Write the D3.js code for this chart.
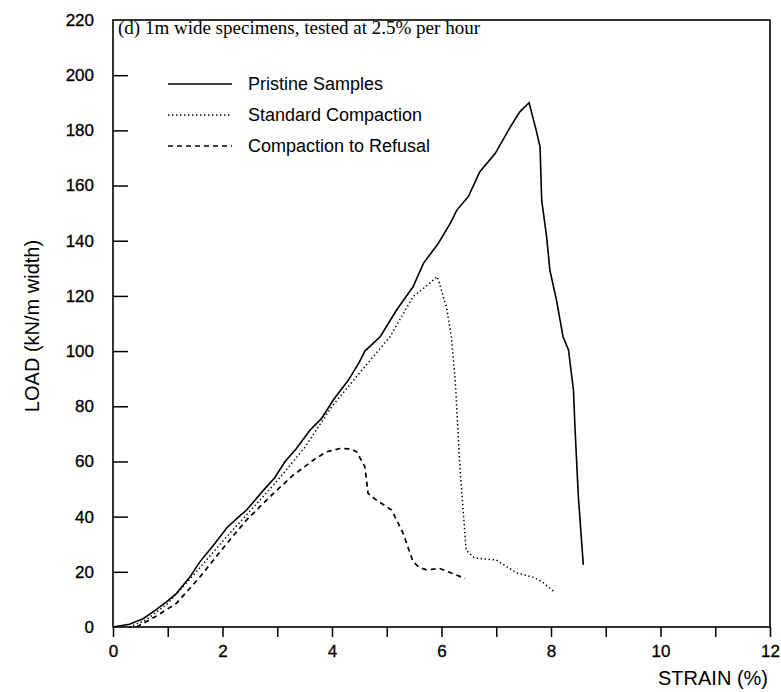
<!DOCTYPE html>
<html>
<head>
<meta charset="utf-8">
<script src="https://cdn.jsdelivr.net/npm/d3@7"></script>
<style>
  body { margin: 0; background: #fff; }
  svg { display: block; }
  .tick text { font-family: "Liberation Sans", Arial, sans-serif; font-size: 17px; fill: #000; stroke: #000; stroke-width: 0.3px; }
</style>
</head>
<body>
<div id="chart"></div>
<script>
// strain (%) and load (kN/m width)
const strainPristine = [0, 0.3, 0.55, 0.77, 1.0, 1.16, 1.4, 1.59, 1.85, 2.08, 2.3, 2.44, 2.75, 2.95, 3.14, 3.35, 3.6, 3.81, 4.02, 4.3, 4.5, 4.6, 4.88, 5.18, 5.48, 5.67, 5.94, 6.16, 6.28, 6.49, 6.7, 6.98, 7.25, 7.43, 7.6, 7.73, 7.8, 7.83, 7.92, 7.98, 8.1, 8.22, 8.32, 8.41, 8.44, 8.5, 8.59]
const loadPristine = [0, 1, 3, 6, 9.5, 12.2, 18, 23.7, 30, 36, 40, 42.4, 49.6, 54, 59.9, 64.7, 71.4, 75.6, 82.2, 89.5, 96, 100, 105.2, 114.9, 123.3, 131.8, 139, 146.3, 151.1, 156, 165, 171.6, 181, 186.7, 190, 180, 174, 154.7, 141.4, 129.3, 118.5, 105.2, 100.4, 85.9, 71.4, 47.2, 22.5]

const strainStandard = [0.3, 0.6, 1.0, 1.5, 2.0, 2.5, 3.0, 3.5, 4.0, 4.5, 5.06, 5.48, 5.75, 5.92, 5.97, 6.09, 6.18, 6.25, 6.34, 6.45, 6.6, 7.0, 7.37, 7.68, 7.84, 8.04]
const loadStandard = [0, 2.5, 8.5, 19.5, 31, 42, 53, 65, 80, 92, 105.2, 119.7, 124, 127, 124, 116, 105.2, 89.5, 56.9, 27.9, 25, 24.3, 19.6, 18, 16.4, 13]

const strainRefusal = [0.43, 0.77, 1.16, 1.59, 2.08, 2.44, 2.93, 3.29, 3.66, 3.9, 4.15, 4.35, 4.45, 4.6, 4.66, 4.81, 5.09, 5.3, 5.48, 5.6, 5.73, 5.97, 6.43]
const loadRefusal = [0, 3.7, 8.6, 18.2, 30.3, 38.8, 48.4, 55, 60.5, 63.5, 64.7, 64.5, 63.5, 58.1, 48.4, 46, 42.4, 33.9, 23.7, 21.5, 20.7, 21.2, 17.6]

const seriesNames = ['Pristine Samples', 'Standard Compaction', 'Compaction to Refusal']
const xTicks = [0, 2, 4, 6, 8, 10, 12]
const yTicks = [0, 20, 40, 60, 80, 100, 120, 140, 160, 180, 200, 220]

const width = 781
const height = 692
const margin = { top: 20, right: 11, bottom: 65, left: 113 }
const innerW = width - margin.left - margin.right
const innerH = height - margin.top - margin.bottom

const sans = '"Liberation Sans", Arial, sans-serif'
const serif = '"Liberation Serif", "Times New Roman", serif'

const svg = d3.select('#chart')
  .append('svg')
  .attr('width', width)
  .attr('height', height)

const g = svg.append('g')
  .attr('transform', `translate(${margin.left}, ${margin.top})`)

const x = d3.scaleLinear().domain([0, 12]).range([0, innerW])
const y = d3.scaleLinear().domain([0, 220]).range([innerH, 0])

// x axis: minor ticks every 1%, labels every 2%
const xAxis = g.append('g')
  .attr('transform', `translate(0, ${innerH})`)
  .call(d3.axisBottom(x)
    .tickValues(d3.range(0, 13))
    .tickFormat((d) => xTicks.includes(d) ? d : '')
    .tickSizeInner(10)
    .tickSizeOuter(0)
    .tickPadding(8))
xAxis.select('.domain').remove()
xAxis.selectAll('.tick line').attr('stroke', '#000').attr('stroke-width', 1.5)

const yAxis = g.append('g')
  .call(d3.axisLeft(y)
    .tickValues(yTicks)
    .tickSizeInner(-15)
    .tickSizeOuter(0)
    .tickPadding(19))
yAxis.select('.domain').remove()
yAxis.selectAll('.tick line')
  .attr('stroke', '#000')
  .attr('stroke-width', 1.5)
  .filter((d) => d === 0 || d === 220)
  .remove()

// frame
g.append('rect')
  .attr('width', innerW)
  .attr('height', innerH)
  .attr('fill', 'none')
  .attr('stroke', '#000')
  .attr('stroke-width', 1.6)

const line = d3.line()
  .x((d) => x(d[0]))
  .y((d) => y(d[1]))

const series = [
  { name: seriesNames[0], data: d3.zip(strainPristine, loadPristine), dash: null, w: 1.6 },
  { name: seriesNames[1], data: d3.zip(strainStandard, loadStandard), dash: '1.4,2.6', w: 1.5 },
  { name: seriesNames[2], data: d3.zip(strainRefusal, loadRefusal), dash: '5,4', w: 1.7 },
]

g.selectAll('.curve')
  .data(series)
  .enter()
  .append('path')
  .attr('class', 'curve')
  .attr('d', (d) => line(d.data))
  .attr('fill', 'none')
  .attr('stroke', '#000')
  .attr('stroke-width', (d) => d.w)
  .attr('stroke-dasharray', (d) => d.dash)

// legend
const legend = svg.append('g')
  .selectAll('g')
  .data(series)
  .enter()
  .append('g')
  .attr('transform', (d, i) => `translate(168, ${84 + i * 31})`)

legend.append('line')
  .attr('x1', 0)
  .attr('x2', 64)
  .attr('stroke', '#000')
  .attr('stroke-width', (d) => d.w)
  .attr('stroke-dasharray', (d) => d.dash)

legend.append('text')
  .attr('x', 80)
  .attr('dy', '0.35em')
  .style('font-family', sans)
  .style('font-size', '18px')
  .text((d) => d.name)

svg.append('text')
  .attr('x', margin.left + 5)
  .attr('y', 34)
  .style('font-family', serif)
  .style('font-size', '19px')
  .text('(d) 1m wide specimens, tested at 2.5% per hour')

svg.append('text')
  .attr('transform', 'translate(39, 326) rotate(-90)')
  .attr('text-anchor', 'middle')
  .style('font-family', sans)
  .style('font-size', '20px')
  .text('LOAD (kN/m width)')

svg.append('text')
  .attr('x', 768)
  .attr('y', 685)
  .attr('text-anchor', 'end')
  .style('font-family', sans)
  .style('font-size', '20px')
  .text('STRAIN (%)')
</script>
</body>
</html>
